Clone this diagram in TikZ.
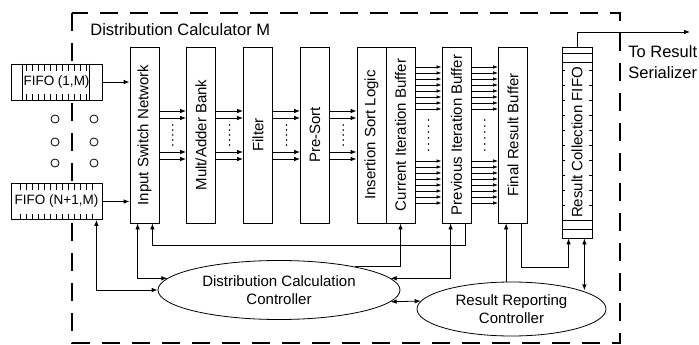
\documentclass[tikz,border=0pt]{standalone}
\usepackage{fontspec}
\setmainfont{Liberation Sans}
\usetikzlibrary{arrows.meta,shapes.geometric,calc}

\begin{document}
\begin{tikzpicture}[
            x=1pt,y=-1pt,
            line width=0.8pt,
            >={Latex[length=6pt,width=4.5pt]},
            frameline/.style={line width=2.6pt,dash pattern=on 18pt off 12pt},
            stage/.style={draw,fill=white,minimum width=29,minimum height=176,inner sep=0pt,font=\fontsize{15}{17}\selectfont},
            fifo/.style={draw,fill=white,minimum width=91,minimum height=36,inner sep=0pt,font=\fontsize{13.5}{15}\selectfont},
            ctrl/.style={ellipse,draw,fill=white,inner sep=0pt,align=center,font=\fontsize{15}{18}\selectfont},
            arr/.style={->},
            dblarr/.style={<->},
            busarr/.style={->,>={Latex[length=5pt,width=3.5pt]}},
        ]
            \useasboundingbox (0,0) rectangle (699,345);

            %--- Outer frame ---%
            \draw[frameline] (72,13) rectangle (620,343);
            \node[anchor=west,inner sep=0pt,font=\fontsize{16.5}{19}\selectfont] (title) at (90,30) {Distribution Calculator M};

            %--- Input FIFOs ---%
            \node[fifo] (fifoA) at (56.5,82) {FIFO (1,M)};
            \node[fifo] (fifoB) at (56.5,201.5) {FIFO (N+1,M)};
            \draw ([xshift=12pt]fifoA.north west) -- ([xshift=12pt]fifoA.south west);
            \draw ([xshift=-13pt]fifoA.north east) -- ([xshift=-13pt]fifoA.south east);
            \foreach \t in {16,22,...,76} {
                \draw ([xshift=\t pt]fifoA.north west) -- ++(0,7);
                \draw ([xshift=\t pt]fifoA.south west) -- ++(0,-6);
            }
            \foreach \t in {10,16,...,82} {
                \draw ([xshift=\t pt]fifoB.north west) -- ++(0,7);
                \draw ([xshift=\t pt]fifoB.south west) -- ++(0,-6);
            }
            \foreach \cx in {55,94}
                \foreach \cy in {119,142,163}
                    \draw (\cx,\cy) circle (4);

            %--- Pipeline stages ---%
            \node[stage] (isn)   at (144.5,135) {\rotatebox{90}{Input Switch Network}};
            \node[stage] (mab)   at (201,135)   {\rotatebox{90}{Mult/Adder Bank}};
            \node[stage] (filt)  at (258,135)   {\rotatebox{90}{Filter}};
            \node[stage] (psort) at (315,135)   {\rotatebox{90}{Pre-Sort}};
            \node[stage] (isl)   at (371.5,135) {\rotatebox{90}{Insertion Sort Logic}};
            \node[stage] (cib)   at (400.5,135) {\rotatebox{90}{Current Iteration Buffer}};
            \node[stage] (pib)   at (456.5,135) {\rotatebox{90}{Previous Iteration Buffer}};
            \node[stage] (frb)   at (513,135)   {\rotatebox{90}{Final Result Buffer}};

            %--- Result collection FIFO ---%
            \node[stage,minimum width=30,minimum height=191] (rcf) at (577,142.5) {\rotatebox{90}{Result Collection FIFO}};
            \foreach \t in {7,16}
                \draw ([yshift=-\t pt]rcf.north west) -- ([yshift=-\t pt]rcf.north east);
            \foreach \t in {9,18}
                \draw ([yshift=\t pt]rcf.south west) -- ([yshift=\t pt]rcf.south east);
            \foreach \t in {24,39,...,159} {
                \draw ([yshift=-\t pt]rcf.north west) -- ++(3,0);
                \draw ([yshift=-\t pt]rcf.north east) -- ++(-3,0);
            }

            %--- Controllers ---%
            \node[ctrl,minimum width=242,minimum height=59] (dcc) at (279,290) {Distribution Calculation\\Controller};
            \node[ctrl,minimum width=189,minimum height=54] (rrc) at (511.5,309) {Result Reporting\\Controller};

            %--- Data paths between stages ---%
            \foreach \a/\b in {isn/mab,mab/filt,filt/psort,psort/isl} {
                \foreach \dy in {24,17,-17,-24}
                    \draw[arr] ([yshift=\dy pt]\a.east) -- ([yshift=\dy pt]\b.west);
                \foreach \dy in {-10,-5,...,10}
                    \fill ($(\a.east)!0.5!(\b.west)+(0,\dy)$) circle (0.8);
            }
            \foreach \a/\b in {cib/pib,pib/frb} {
                \foreach \dy in {26,32,...,68} {
                    \draw[busarr] ([yshift=\dy pt]\a.east) -- ([yshift=\dy pt]\b.west);
                    \draw[busarr] ([yshift=-\dy pt]\a.east) -- ([yshift=-\dy pt]\b.west);
                }
                \foreach \dy in {-15,-9,...,15}
                    \fill ($(\a.east)!0.5!(\b.west)+(0,\dy)$) circle (0.8);
            }
            \draw[arr] (fifoA.east) -- (fifoA.east -| isn.west);
            \draw[arr] (fifoB.east) -- (fifoB.east -| isn.west);

            %--- Feedback and control ---%
            \draw[arr] ([xshift=-6pt]pib.south east) -- ++(0,22) -| ([xshift=-7pt]isn.south east);
            \draw[dblarr] ([xshift=8pt]isn.south west) |- (dcc.174);
            \draw[dblarr] ([xshift=-6pt]fifoB.south east) |- (dcc.west);
            \draw[arr] (dcc.17) -| (cib.south);
            \draw[dblarr] ([xshift=9pt]pib.south west) |- (dcc.6);
            \draw[dblarr] (dcc.354) -- (rrc.175);
            \coordinate (frbIn) at ([xshift=8pt]frb.south west);
            \draw[arr] (rrc.north -| frbIn) -- (frbIn);
            \draw[arr] ([xshift=-7pt]frb.south east) -- ++(0,44) -| ([xshift=7pt]rcf.south west);
            \coordinate (rcfOut) at ([xshift=-8pt]rcf.south east);
            \draw[dblarr] (rcfOut) -- (rcfOut |- rrc.15);

            %--- Output ---%
            \coordinate (serOut) at (690,32);
            \draw[arr] (rcf.north) |- (serOut);
            \node[anchor=west,inner sep=0pt,align=left,font=\fontsize{16.5}{21}\selectfont] (serLbl) at (628,62.5) {To Result\\Serializer};

        \end{tikzpicture}
\end{document}
